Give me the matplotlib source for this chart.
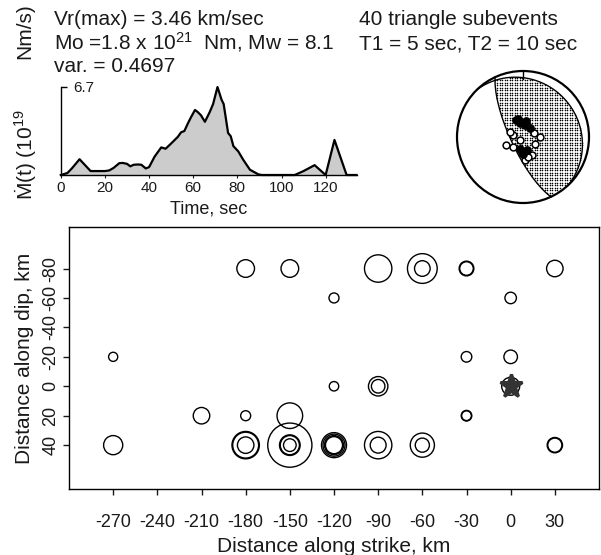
#!/usr/bin/env python3
"""Slip distribution of 40 triangle subevents with moment-rate function and mechanism."""

import numpy as np
import matplotlib

matplotlib.use("Agg")
import matplotlib.pyplot as plt
from matplotlib.patches import Circle

# moment-rate function (10^19 Nm/s)
mrf_time = [0, 3, 5, 8.5, 11, 13.5, 20, 22, 24, 26.5, 28, 30, 31.5, 33, 35, 36.5,
            38.5, 40, 42.5, 45.5, 47.5, 50, 53, 54.5, 56, 57.5, 59, 60.8, 62, 63.5,
            65.3, 67.5, 69, 71, 72.8, 73.8, 75.8, 77, 78.2, 80.4, 82.7, 85.7, 89.5,
            91, 106, 110, 115, 120, 124, 129.5, 134]
mrf_rate = [0, 0.15, 0.5, 1.2, 0.75, 0.3, 0.3, 0.35, 0.55, 0.9, 0.92, 0.85, 0.66,
            0.78, 0.8, 0.78, 0.5, 0.6, 1.4, 2.1, 2.0, 2.4, 2.9, 3.25, 3.35, 3.9,
            4.4, 4.95, 4.8, 4.55, 4.05, 4.8, 5.4, 6.7, 5.75, 5.4, 3.2, 2.95, 2.2,
            1.8, 1.15, 0.4, 0.05, 0, 0, 0.3, 0.75, 0, 2.67, 0, 0]

# subevent locations (km) and circle radius (km, scaled by moment)
sub_strike = [-270, -270, -210, -180, -180, -180, -180, -180, -150, -150,
              -150, -150, -150, -150, -120, -120, -120, -120, -120, -120,
              -90, -90, -90, -90, -90, -60, -60, -60, -60, -30,
              -30, -30, -30, -30, 0, 0, 0, 30, 30, 30]
sub_dip = [-20, 40, 20, -80, 20, 40, 40, 40, -80, 20,
           40, 40, 40, 40, -60, 0, 40, 40, 40, 40,
           -80, 0, 0, 40, 40, -80, -80, 40, 40, -80,
           -80, -20, 20, 20, -60, -20, 0, -80, 40, 40]
sub_radius = [3.1, 6.5, 5.6, 6.0, 3.4, 9.3, 8.8, 5.6, 6.0, 8.7,
              15.0, 7.0, 6.5, 4.3, 3.4, 3.2, 8.5, 7.5, 6.5, 5.8,
              9.3, 6.6, 4.6, 9.3, 5.4, 10.1, 5.3, 8.2, 4.8, 5.0,
              4.6, 3.6, 3.6, 3.3, 3.9, 4.6, 6.1, 5.6, 5.2, 4.8]

hypo_strike = [0]
hypo_dip = [0]

strike_ticks = [-270, -240, -210, -180, -150, -120, -90, -60, -30, 0, 30]
dip_ticks = [-80, -60, -40, -20, 0, 20, 40]
time_ticks = [0, 20, 40, 60, 80, 100, 120]

# total mechanism (strike, dip, rake in degrees)
mech_strike = 155.0
mech_dip = 75.0
mech_rake = 95.0

# subevent axes plotted on the focal sphere (unit-circle coords)
bb_open_x = [-0.15, -0.26, 0.16, 0.26, 0.18, 0.13, 0.03, -0.15, -0.2, -0.05, 0.08]
bb_open_y = [0.03, -0.12, 0.06, 0.0, -0.1, -0.27, -0.35, -0.15, 0.08, -0.05, -0.3]
bb_fill_x = [-0.02, -0.05, 0.03, 0.1, -0.1, 0.0, -0.07, 0.05, -0.04, 0.06]
bb_fill_y = [-0.22, 0.21, 0.18, 0.13, 0.26, -0.25, 0.28, 0.24, -0.18, -0.2]

FIG_W, FIG_H = 601, 555
TEXT_COLOR = "#1a1a1a"
FILL_COLOR = "#cccccc"
FS_BIG = 15
FS_MAIN_TICK = 13
FS_SMALL_TICK = 11
FS_TIME = 13
CIRCLE_LW = 1.0

plt.rcParams["font.family"] = ["Liberation Sans", "DejaVu Sans"]
plt.rcParams["axes.unicode_minus"] = False
plt.rcParams["mathtext.fontset"] = "custom"
plt.rcParams["mathtext.rm"] = "Liberation Sans"
plt.rcParams["mathtext.it"] = "Liberation Sans:italic"
plt.rcParams["mathtext.bf"] = "Liberation Sans:bold"


def px_box(left, top, right, bottom):
    return [left / FIG_W, 1 - bottom / FIG_H, (right - left) / FIG_W, (bottom - top) / FIG_H]


def mech_vectors(strike, dip, rake):
    s, d, r = np.radians([strike, dip, rake])
    # (north, east, down)
    n = np.array([-np.sin(d) * np.sin(s), np.sin(d) * np.cos(s), -np.cos(d)])
    u = np.array([np.cos(r) * np.cos(s) + np.cos(d) * np.sin(r) * np.sin(s),
                  np.cos(r) * np.sin(s) - np.cos(d) * np.sin(r) * np.cos(s),
                  -np.sin(r) * np.sin(d)])
    return n, u


def project(v):
    v = np.atleast_2d(v)
    theta = np.arccos(np.clip(v[:, 2], -1, 1))
    trend = np.arctan2(v[:, 1], v[:, 0])
    rad = np.sqrt(2) * np.sin(theta / 2)
    return rad * np.sin(trend), rad * np.cos(trend)


def great_circle(m):
    m = m / np.linalg.norm(m)
    h = np.cross(m, [0, 0, 1.0])
    h /= np.linalg.norm(h)
    w = np.cross(m, h)
    if w[2] < 0:
        w = -w
    t = np.linspace(0, np.pi, 200)
    pts = np.outer(np.cos(t), h) + np.outer(np.sin(t), w)
    return project(pts)


def draw_moment_rate(fig):
    ax = fig.add_axes(px_box(60.8, 87, 60.8 + 134 * 2.207, 175))
    ax.fill_between(mrf_time, mrf_rate, 0, color=FILL_COLOR, lw=0)
    ax.plot(mrf_time, mrf_rate, color="black", lw=1.6, clip_on=False,
            solid_joinstyle="round")
    ax.set_xlim(0, 134)
    ax.set_ylim(0, 6.7)
    for side in ("top", "right"):
        ax.spines[side].set_visible(False)
    ax.spines["left"].set_linewidth(1.0)
    ax.spines["bottom"].set_linewidth(1.0)
    ax.set_xticks(time_ticks)
    ax.tick_params(axis="x", length=2, width=0.8, pad=2,
                   labelsize=FS_SMALL_TICK, colors=TEXT_COLOR)
    ax.set_yticks([6.7])
    ax.tick_params(axis="y", direction="in", length=4, width=1.0, labelleft=False)
    ax.annotate("6.7", xy=(0, 6.7), xytext=(9, -1), textcoords="offset points",
                ha="left", va="center", fontsize=FS_SMALL_TICK, color=TEXT_COLOR)
    ax.set_xlabel("Time, sec", fontsize=FS_TIME, color=TEXT_COLOR, labelpad=4)
    ax.patch.set_alpha(0)


def draw_mechanism(fig):
    ax = fig.add_axes(px_box(523 - 72.6, 137 - 72.6, 523 + 72.6, 137 + 72.6))
    ax.set_xlim(-1.1, 1.1)
    ax.set_ylim(-1.1, 1.1)
    ax.axis("off")

    n, u = mech_vectors(mech_strike, mech_dip, mech_rake)
    g = np.arange(-1, 1.001, 0.038)
    gx, gy = np.meshgrid(g, g)
    gx, gy = gx.ravel(), gy.ravel()
    rr = np.hypot(gx, gy)
    keep = rr < 0.975
    gx, gy, rr = gx[keep], gy[keep], rr[keep]
    theta = 2 * np.arcsin(np.clip(rr / np.sqrt(2), 0, 1))
    trend = np.arctan2(gx, gy)
    vec = np.column_stack([np.sin(theta) * np.cos(trend),
                           np.sin(theta) * np.sin(trend), np.cos(theta)])
    pol = (vec @ n) * (vec @ u)
    ax.scatter(gx[pol > 0], gy[pol > 0], s=1.3, marker="o", color="black", lw=0)

    for m in (n, u):
        x, y = great_circle(m)
        ax.plot(x, y, color="black", lw=1.0)
    ax.add_patch(Circle((0, 0), 1.0, fill=False, ec="black", lw=1.6))
    ax.plot([0, 0], [1.0, 0.88], color="black", lw=1.0)

    ax.scatter(bb_open_x, bb_open_y, s=24, facecolor="white", edgecolor="black",
               lw=1.1, zorder=3)
    ax.scatter(bb_fill_x, bb_fill_y, s=28, facecolor="black", edgecolor="black",
               lw=1.0, zorder=4)


def draw_subevents(fig):
    ax = fig.add_axes(px_box(69, 227.3, 599, 489.3))
    for x, y, r in zip(sub_strike, sub_dip, sub_radius):
        ax.add_patch(Circle((x, y), r, fill=False, ec="black", lw=CIRCLE_LW))
    ax.plot(hypo_strike, hypo_dip, marker="*", ms=17, mfc="#333333",
            mec="#333333", mew=2.2, ls="none", zorder=5)
    ax.set_xlim(-300, 60)
    ax.set_ylim(70, -108)
    ax.set_xticks(strike_ticks)
    ax.set_yticks(dip_ticks)
    ax.tick_params(axis="x", length=4, width=1.0, pad=14,
                   labelsize=FS_MAIN_TICK, colors=TEXT_COLOR)
    ax.tick_params(axis="y", length=4, width=1.0, pad=3,
                   labelsize=FS_MAIN_TICK, colors=TEXT_COLOR)
    for lab in ax.get_yticklabels():
        lab.set_rotation(90)
        lab.set_va("center")
    for sp in ax.spines.values():
        sp.set_linewidth(1.0)
    ax.set_xlabel("Distance along strike, km", fontsize=FS_BIG, color=TEXT_COLOR,
                  labelpad=4)
    ax.set_ylabel("Distance along dip, km", fontsize=FS_BIG, color=TEXT_COLOR,
                  labelpad=6)


def draw_header(fig):
    def put(x, y, s, **kw):
        fig.text(x / FIG_W, 1 - y / FIG_H, s, fontsize=FS_BIG, color=TEXT_COLOR,
                 va="baseline", **kw)

    put(54, 25, "Vr(max) = 3.46 km/sec")
    put(54, 49, r"Mo =1.8 x 10$^{\mathrm{21}}$  Nm, Mw = 8.1")
    put(54, 72, "var. = 0.4697")
    put(359, 25, "40 triangle subevents")
    put(359, 49, "T1 = 5 sec, T2 = 10 sec")
    fig.text(25 / FIG_W, 1 - 200 / FIG_H, "\u1e40(t) (10$^{\\mathrm{19}}$",
             rotation=90, ha="center", va="bottom", fontsize=FS_BIG, color=TEXT_COLOR)
    fig.text(25 / FIG_W, 1 - 3 / FIG_H, "Nm/s)",
             rotation=90, ha="center", va="top", fontsize=FS_BIG, color=TEXT_COLOR)


def main():
    fig = plt.figure(figsize=(FIG_W / 100, FIG_H / 100), dpi=100)
    draw_subevents(fig)
    draw_moment_rate(fig)
    draw_mechanism(fig)
    draw_header(fig)
    fig.savefig("out.png", dpi=100)
    plt.close(fig)


if __name__ == "__main__":
    main()
